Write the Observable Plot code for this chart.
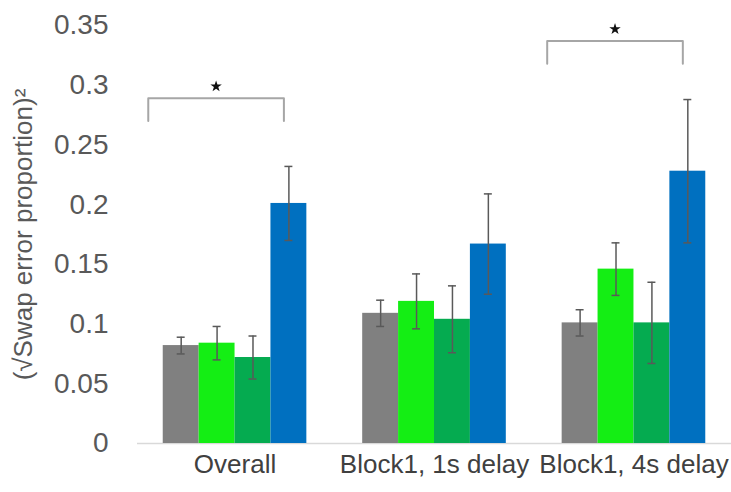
<!DOCTYPE html>
<html><head><meta charset="utf-8">
<script src="https://cdn.jsdelivr.net/npm/d3@7"></script>
<script src="https://cdn.jsdelivr.net/npm/@observablehq/plot@0.6"></script>
<style>html,body{margin:0;padding:0;background:#fff;}</style>
</head><body><div id="chart"></div>
<script>
// ---- data ----
const groups = ["Overall", "Block1, 1s delay", "Block1, 4s delay"];
const series = ["Gray", "Light green", "Green", "Blue"];
const colors = ["#808080", "#14ee14", "#05ab50", "#0070c0"];
const grayValues = [0.082, 0.109, 0.101];
const grayErrors = [0.007, 0.011, 0.011];
const lightGreenValues = [0.084, 0.119, 0.146];
const lightGreenErrors = [0.014, 0.023, 0.022];
const greenValues = [0.072, 0.104, 0.101];
const greenErrors = [0.018, 0.028, 0.034];
const blueValues = [0.201, 0.167, 0.228];
const blueErrors = [0.031, 0.042, 0.060];
const yTicks = [0, 0.05, 0.1, 0.15, 0.2, 0.25, 0.3, 0.35];
const yLabel = "(\u221ASwap error proportion)\u00B2";
const sigGroups = ["Overall", "Block1, 4s delay"];
const sigLevels = [0.289, 0.337];

// ---- build table ----
const seriesValues = [grayValues, lightGreenValues, greenValues, blueValues];
const seriesErrors = [grayErrors, lightGreenErrors, greenErrors, blueErrors];
const bw = 0.18;
const rows = [];
groups.forEach((g, gi) => series.forEach((s, si) => {
  const c = gi + (si - (series.length - 1) / 2) * bw;
  rows.push({group: g, series: s, xc: c, x1: c - bw / 2, x2: c + bw / 2,
    value: seriesValues[si][gi], err: seriesErrors[si][gi]});
}));
const bracketPts = [];
const stars = [];
sigGroups.forEach((g, k) => {
  const gi = groups.indexOf(g);
  const left = gi - 2 * bw - 0.075;
  const right = gi + 1.5 * bw - 0.025;
  const y = sigLevels[k], drop = 0.019;
  bracketPts.push({k, x: left, y: y - drop}, {k, x: left, y}, {k, x: right, y}, {k, x: right, y: y - drop});
  stars.push({x: (left + right) / 2, y: y + 0.01});
});

const font = "'Liberation Sans', Arial, sans-serif";
const chart = Plot.plot({
  width: 731,
  height: 492,
  marginLeft: 137,
  marginRight: 0,
  marginTop: 25,
  marginBottom: 49,
  style: {fontFamily: font, fontSize: "27px", color: "#595959", background: "#fff"},
  x: {domain: [-0.489, 2.489]},
  y: {domain: [0, 0.35]},
  color: {domain: series, range: colors},
  marks: [
    Plot.ruleY([0], {stroke: "#d9d9d9", strokeWidth: 1.5}),
    Plot.rectY(rows, {x1: "x1", x2: "x2", y: "value", fill: "series"}),
    Plot.ruleX(rows, {x: "xc", y1: d => d.value - d.err, y2: d => d.value + d.err, stroke: "#595959", strokeWidth: 1.5}),
    Plot.ruleY(rows, {y: d => d.value + d.err, x1: d => d.xc - 0.02, x2: d => d.xc + 0.02, stroke: "#595959", strokeWidth: 1.5}),
    Plot.ruleY(rows, {y: d => d.value - d.err, x1: d => d.xc - 0.02, x2: d => d.xc + 0.02, stroke: "#595959", strokeWidth: 1.5}),
    Plot.line(bracketPts, {x: "x", y: "y", z: "k", stroke: "#a6a6a6", strokeWidth: 2}),
    Plot.dot(stars, {x: "x", y: "y", symbol: "star", r: 3.6, fill: "#111", stroke: "none"}),
    Plot.axisX({ticks: [0, 1, 2], tickFormat: i => groups[i], tickSize: 0, tickPadding: 11, fontSize: 26, fill: "#404040", label: null}),
    Plot.axisY({ticks: yTicks, tickFormat: d => String(+d.toFixed(2)), tickSize: 0, tickPadding: 29, fontSize: 28, label: null}),
    Plot.axisY({ticks: [], label: yLabel, labelAnchor: "center", labelArrow: "none", labelOffset: 124, fontSize: 26})
  ]
});
document.getElementById("chart").appendChild(chart);
</script>
</body></html>
